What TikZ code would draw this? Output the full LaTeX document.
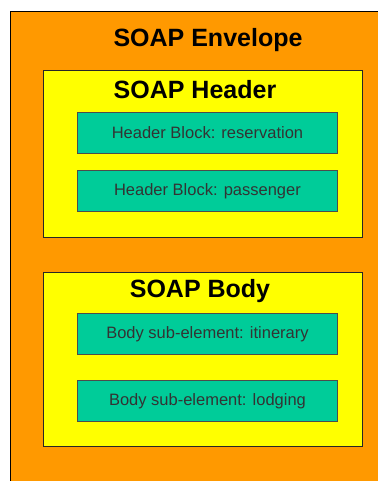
\documentclass[tikz,border=0pt]{standalone}
\usepackage{fontspec}
\setmainfont{Liberation Sans}
\definecolor{envorange}{HTML}{FF9900}
\definecolor{boxyellow}{HTML}{FFFF00}
\definecolor{blockgreen}{HTML}{00CC99}
\begin{document}
\begin{tikzpicture}[x=1pt,y=-1pt,
  title/.style={font=\fontsize{25}{28}\selectfont\bfseries, text=black, inner sep=0pt},
  section/.style={draw=black!85, line width=0.9pt, fill=boxyellow},
  block/.style={draw=black!70, line width=0.9pt, fill=blockgreen, font=\fontsize{16.5}{19}\selectfont, text=black!80, inner sep=0pt}]
\useasboundingbox (0,0) rectangle (378,481);
% envelope
\fill[envorange] (10,11) rectangle (378,481);
\draw[black, line width=0.9pt] (10,481) -- (10,11) -- (378,11);
\node[title] (envtitle) at (208,40) {SOAP Envelope};
% header
\node[section, minimum width=319pt, minimum height=167pt, anchor=north west] (header) at (43,70) {};
\node[title] (headertitle) at (195,90) {SOAP Header};
\node[block, minimum width=260pt, minimum height=41pt, anchor=north west] (hb1) at (77,112) {Header Block: reservation};
\node[block, minimum width=260pt, minimum height=41pt, anchor=north west] (hb2) at (77,170) {Header Block: passenger};
% body
\node[section, minimum width=319pt, minimum height=174pt, anchor=north west] (body) at (43,272) {};
\node[title] (bodytitle) at (200,291) {SOAP Body};
\node[block, minimum width=260pt, minimum height=41pt, anchor=north west] (bb1) at (77,313) {Body sub-element: itinerary};
\node[block, minimum width=260pt, minimum height=41pt, anchor=north west] (bb2) at (77,380) {Body sub-element: lodging};
\end{tikzpicture}
\end{document}
